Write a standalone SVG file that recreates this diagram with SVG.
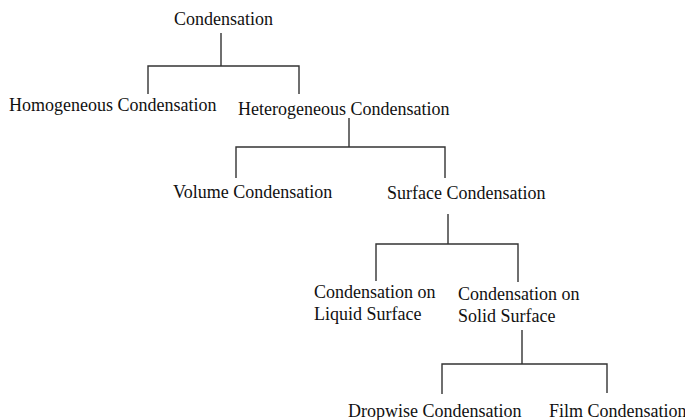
<svg xmlns="http://www.w3.org/2000/svg" width="685" height="420" viewBox="0 0 685 420">
<style>
text{font-family:"Liberation Serif","Times New Roman",serif;font-size:18px;fill:#111}
.c path{fill:none;stroke:#333;stroke-width:1.4}
</style>
<rect width="685" height="420" fill="#fff"/>
<g class="c" id="connectors">
<path d="M221,33V66M148,94V66H299V94"/>
<path d="M349,118V147M236,178V147H445V178"/>
<path d="M448,214V244M376,281V244H518V282"/>
<path d="M522,330V364M442,394V364H607V393"/>
</g>
<g id="n-condensation"><text x="174" y="25">Condensation</text></g>
<g id="n-homogeneous"><text x="9" y="111">Homogeneous Condensation</text></g>
<g id="n-heterogeneous"><text x="238" y="115">Heterogeneous Condensation</text></g>
<g id="n-volume"><text x="173" y="198">Volume Condensation</text></g>
<g id="n-surface"><text x="387" y="199">Surface Condensation</text></g>
<g id="n-liquid"><text x="314" y="298">Condensation on</text><text x="314" y="320">Liquid Surface</text></g>
<g id="n-solid"><text x="458" y="300">Condensation on</text><text x="458" y="322">Solid Surface</text></g>
<g id="n-dropwise"><text x="348" y="417">Dropwise Condensation</text></g>
<g id="n-film"><text x="549" y="417">Film Condensation</text></g>
</svg>
